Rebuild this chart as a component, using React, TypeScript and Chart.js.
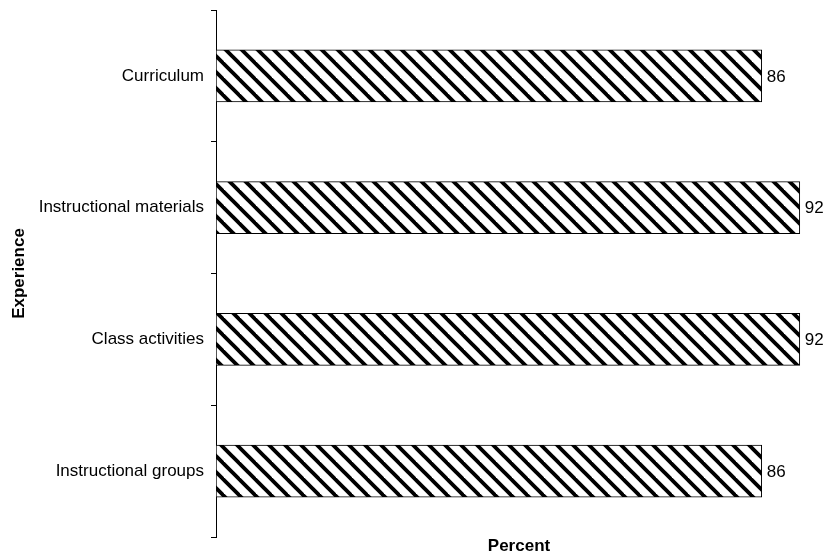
import React, { useEffect, useRef } from "react";
import { Chart, registerables } from "chart.js";

Chart.register(...registerables);

const categories = ["Curriculum", "Instructional materials", "Class activities", "Instructional groups"];
const percentValues = [86, 92, 92, 86];
const xAxisTitle = "Percent";
const yAxisTitle = "Experience";

const FONT = "'Liberation Sans', Arial, Helvetica, sans-serif";

function makeHatch(): CanvasPattern | string {
  const size = 16;
  const c = document.createElement("canvas");
  c.width = size;
  c.height = size;
  const g = c.getContext("2d");
  if (!g) return "#fff";
  g.fillStyle = "#fff";
  g.fillRect(0, 0, size, size);
  g.strokeStyle = "#000";
  g.lineWidth = 3.8;
  for (let k = -1; k <= 1; k++) {
    g.beginPath();
    g.moveTo(k * size - 2, -2);
    g.lineTo(k * size + size + 2, size + 2);
    g.stroke();
  }
  const p = g.createPattern(c, "repeat");
  return p || "#fff";
}

const valueLabels = {
  id: "valueLabels",
  afterDatasetsDraw(chart: any) {
    const ctx = chart.ctx;
    const meta = chart.getDatasetMeta(0);
    const data = chart.data.datasets[0].data;
    ctx.save();
    ctx.font = `17px ${FONT}`;
    ctx.fillStyle = "#000";
    ctx.textAlign = "left";
    ctx.textBaseline = "middle";
    meta.data.forEach((el: any, i: number) => {
      ctx.fillText(String(data[i]), el.x + 5, el.y + 1);
    });
    ctx.restore();
  },
};

export default function App() {
  const ref = useRef<HTMLCanvasElement>(null);

  useEffect(() => {
    if (!ref.current) return;
    const chart = new Chart(ref.current, {
      type: "bar",
      data: {
        labels: categories,
        datasets: [
          {
            data: percentValues,
            backgroundColor: makeHatch() as any,
            borderColor: "#000",
            borderWidth: 1,
            borderSkipped: false,
            barThickness: 52,
          },
        ],
      },
      options: {
        indexAxis: "y",
        responsive: false,
        animation: false,
        layout: { padding: { top: 10, right: 5, bottom: 0, left: 0 } },
        plugins: {
          legend: { display: false },
          tooltip: { enabled: false },
        },
        scales: {
          x: {
            min: 0,
            max: 95.5,
            grid: { display: false, drawTicks: false },
            border: { display: false },
            ticks: { display: false },
            title: {
              display: true,
              text: xAxisTitle,
              color: "#000",
              font: { family: FONT, size: 17, weight: "bold" },
              padding: { top: 0, bottom: -1 },
            },
            afterFit(scale: any) {
              scale.height = 19;
              scale.paddingLeft = 0;
              scale.paddingRight = 0;
            },
          },
          y: {
            grid: {
              display: true,
              drawOnChartArea: false,
              drawTicks: true,
              tickLength: 5,
              color: "#000",
              lineWidth: 1,
              offset: true,
            },
            border: { display: true, color: "#000", width: 1 },
            ticks: {
              color: "#000",
              padding: 7,
              font: { family: FONT, size: 17 },
            },
            title: {
              display: true,
              text: yAxisTitle,
              color: "#000",
              font: { family: FONT, size: 17, weight: "bold" },
              padding: { top: 9.5, bottom: 0 },
            },
            afterFit(scale: any) {
              scale.width = 216;
              scale.paddingTop = 0;
              scale.paddingBottom = 0;
            },
          },
        },
      },
      plugins: [valueLabels],
    });
    return () => chart.destroy();
  }, []);

  return (
    <div style={{ position: "fixed", left: 0, top: 0, width: 827, height: 556, background: "#fff" }}>
      <canvas ref={ref} width={827} height={556} style={{ display: "block" }} />
    </div>
  );
}
